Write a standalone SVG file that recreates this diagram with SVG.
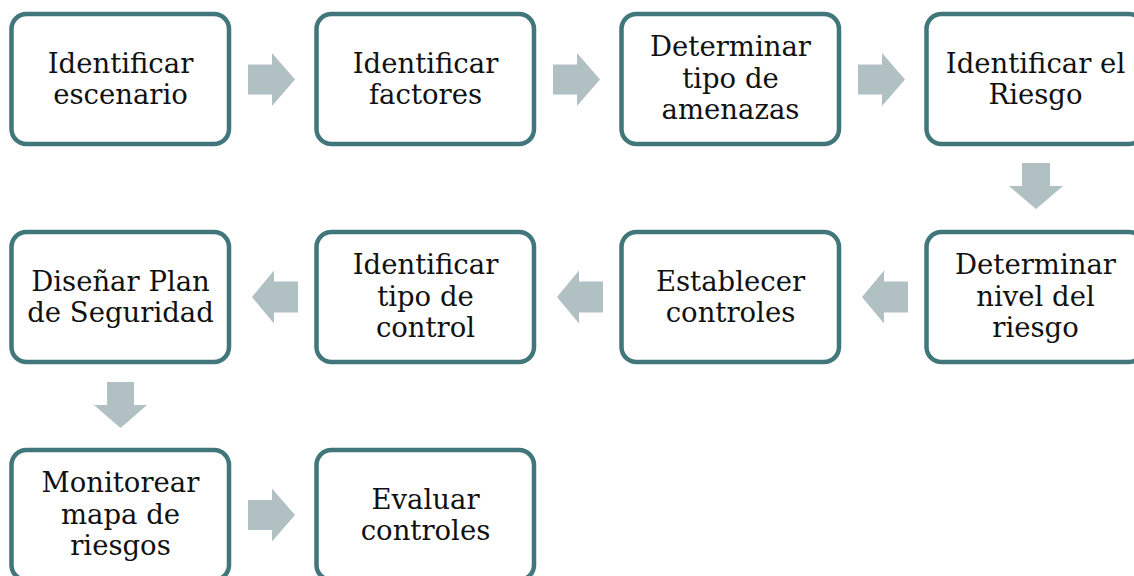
<svg xmlns="http://www.w3.org/2000/svg" width="1134" height="576" viewBox="0 0 1134 576">
<style>
.box{fill:#fff;stroke:#41777b;stroke-width:4.5}
.arr{fill:#b1c1c3}
text{font-family:"DejaVu Serif","Liberation Serif",serif;font-size:27.5px;fill:#111;text-anchor:middle}
</style>
<rect width="1134" height="576" fill="#fff"/>
<g id="connectors">
<polygon class="arr" points="248,64.5 272,64.5 272,53 295,79.5 272,106 272,94.5 248,94.5"/>
<polygon class="arr" points="553,64.5 577,64.5 577,53 600,79.5 577,106 577,94.5 553,94.5"/>
<polygon class="arr" points="858,64.5 882,64.5 882,53 905,79.5 882,106 882,94.5 858,94.5"/>
<polygon class="arr" points="1022,163 1050,163 1050,186 1063,186 1036,209 1009,186 1022,186"/>
<polygon class="arr" points="908,281.5 884,281.5 884,270.5 862,297 884,323.5 884,312.5 908,312.5"/>
<polygon class="arr" points="603,281.5 579,281.5 579,270.5 557,297 579,323.5 579,312.5 603,312.5"/>
<polygon class="arr" points="298,281.5 274,281.5 274,270.5 252,297 274,323.5 274,312.5 298,312.5"/>
<polygon class="arr" points="107,382 134,382 134,405 147,405 120.5,428 94,405 107,405"/>
<polygon class="arr" points="248,500 272,500 272,488.5 295,515 272,541.5 272,530 248,530"/>
</g>
<g id="n1"><rect class="box" x="11.5" y="14" width="217.5" height="130" rx="15"/><text x="120.5" y="72.5">Identificar</text><text x="120.5" y="104">escenario</text></g>
<g id="n2"><rect class="box" x="316.5" y="14" width="217.5" height="130" rx="15"/><text x="425.5" y="72.5">Identificar</text><text x="425.5" y="104">factores</text></g>
<g id="n3"><rect class="box" x="621.5" y="14" width="217.5" height="130" rx="15"/><text x="730.5" y="56">Determinar</text><text x="730.5" y="87.5">tipo de</text><text x="730.5" y="119">amenazas</text></g>
<g id="n4"><rect class="box" x="926.5" y="14" width="217.5" height="130" rx="15"/><text x="1035.5" y="72.5">Identificar el</text><text x="1035.5" y="104">Riesgo</text></g>
<g id="n5"><rect class="box" x="926.5" y="232" width="217.5" height="130" rx="15"/><text x="1035.5" y="274">Determinar</text><text x="1035.5" y="305.5">nivel del</text><text x="1035.5" y="337">riesgo</text></g>
<g id="n6"><rect class="box" x="621.5" y="232" width="217.5" height="130" rx="15"/><text x="730.5" y="290.5">Establecer</text><text x="730.5" y="322">controles</text></g>
<g id="n7"><rect class="box" x="316.5" y="232" width="217.5" height="130" rx="15"/><text x="425.5" y="274">Identificar</text><text x="425.5" y="305.5">tipo de</text><text x="425.5" y="337">control</text></g>
<g id="n8"><rect class="box" x="11.5" y="232" width="217.5" height="130" rx="15"/><text x="120.5" y="290.5">Diseñar Plan</text><text x="120.5" y="322">de Seguridad</text></g>
<g id="n9"><rect class="box" x="11.5" y="450" width="217.5" height="130" rx="15"/><text x="120.5" y="492">Monitorear</text><text x="120.5" y="523.5">mapa de</text><text x="120.5" y="555">riesgos</text></g>
<g id="n10"><rect class="box" x="316.5" y="450" width="217.5" height="130" rx="15"/><text x="425.5" y="508.5">Evaluar</text><text x="425.5" y="540">controles</text></g>
</svg>
